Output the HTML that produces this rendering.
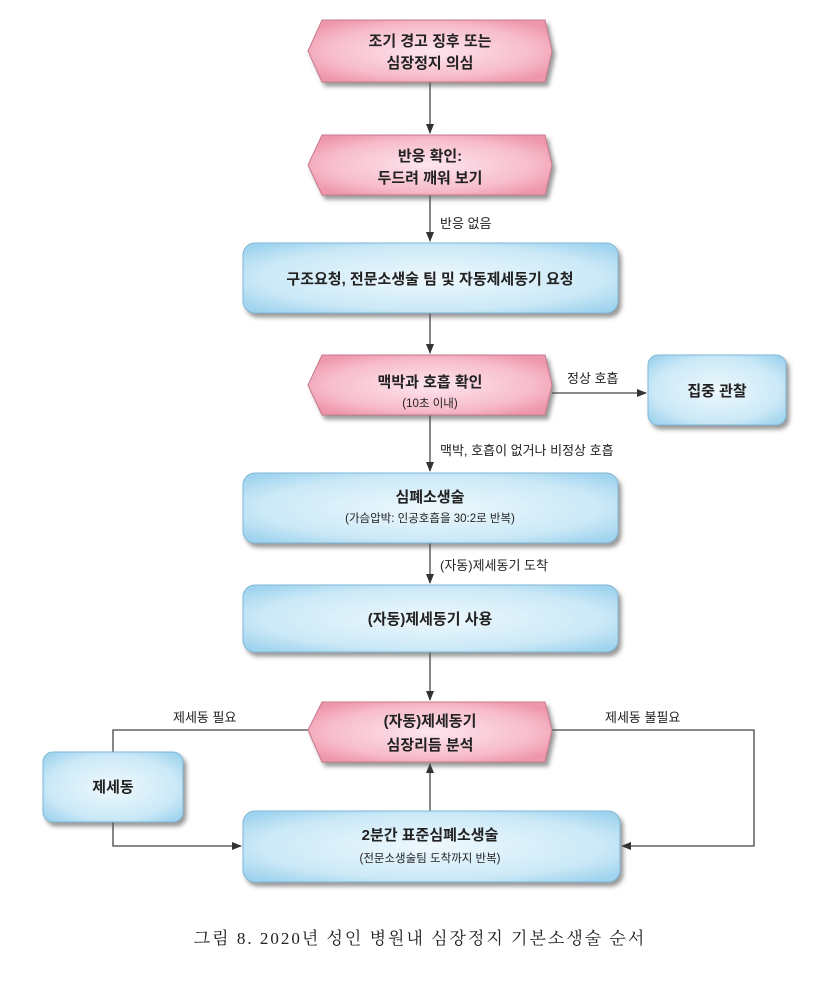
<!DOCTYPE html>
<html><head><meta charset="utf-8"><style>
body{margin:0;background:#fff;}
svg text{font-family:"Liberation Sans","Noto Sans CJK KR",sans-serif;fill:#222;}
</style></head><body>
<svg width="822" height="978" viewBox="0 0 822 978" xmlns="http://www.w3.org/2000/svg">
<defs>
<radialGradient id="pk" cx="50%" cy="50%" r="60%"><stop offset="0" stop-color="#fde6ee"/><stop offset="0.7" stop-color="#f7bccb"/><stop offset="1" stop-color="#ee97ac"/></radialGradient>
<radialGradient id="bl" cx="50%" cy="50%" r="65%"><stop offset="0" stop-color="#eef8fd"/><stop offset="0.7" stop-color="#cbe9f7"/><stop offset="1" stop-color="#9fd3ee"/></radialGradient>
<marker id="ar" markerWidth="10" markerHeight="10" refX="9" refY="5" orient="auto" markerUnits="userSpaceOnUse"><path d="M0,1 L10,5 L0,9 Z" fill="#333"/></marker>
<filter id="sh" x="-10%" y="-10%" width="125%" height="140%"><feDropShadow dx="3" dy="4" stdDeviation="2" flood-color="#555" flood-opacity="0.6"/></filter>
</defs>
<g stroke="#444" stroke-width="1.3" fill="none">
<line x1="430" y1="82" x2="430" y2="133" marker-end="url(#ar)"/>
<line x1="430" y1="195" x2="430" y2="241" marker-end="url(#ar)"/>
<line x1="430" y1="313" x2="430" y2="353" marker-end="url(#ar)"/>
<line x1="552" y1="393" x2="646" y2="393" marker-end="url(#ar)"/>
<line x1="430" y1="415" x2="430" y2="471" marker-end="url(#ar)"/>
<line x1="430" y1="543" x2="430" y2="583" marker-end="url(#ar)"/>
<line x1="430" y1="652" x2="430" y2="700" marker-end="url(#ar)"/>
<line x1="430" y1="811" x2="430" y2="764" marker-end="url(#ar)"/>
<polyline points="308,730 113,730 113,752"/>
<polyline points="113,822 113,846 241,846" marker-end="url(#ar)"/>
<polyline points="552,730 754,730 754,846 622,846" marker-end="url(#ar)"/>
</g>
<g filter="url(#sh)" stroke="#c77a8c" stroke-width="1">
<polygon points="322,20 545,20 552,51 545,82 322,82 308,51" fill="url(#pk)"/>
<polygon points="322,135 545,135 552,165 545,195 322,195 308,165" fill="url(#pk)"/>
<polygon points="322,355 545,355 552,385 545,415 322,415 308,385" fill="url(#pk)"/>
<polygon points="322,702 545,702 552,730 545,762 322,762 308,730" fill="url(#pk)"/>
</g>
<g filter="url(#sh)" stroke="#7fb8d6" stroke-width="1">
<rect x="243" y="243" width="375" height="70" rx="12" fill="url(#bl)"/>
<rect x="648" y="355" width="138" height="70" rx="10" fill="url(#bl)"/>
<rect x="243" y="473" width="375" height="70" rx="12" fill="url(#bl)"/>
<rect x="243" y="585" width="375" height="67" rx="12" fill="url(#bl)"/>
<rect x="43" y="752" width="140" height="70" rx="10" fill="url(#bl)"/>
<rect x="243" y="811" width="377" height="71" rx="12" fill="url(#bl)"/>
</g>
<g font-size="15" font-weight="bold" text-anchor="middle">
<text x="430" y="46">조기 경고 징후 또는</text>
<text x="430" y="68">심장정지 의심</text>
<text x="430" y="161">반응 확인:</text>
<text x="430" y="183">두드려 깨워 보기</text>
<text x="430" y="284">구조요청, 전문소생술 팀 및 자동제세동기 요청</text>
<text x="430" y="387">맥박과 호흡 확인</text>
<text x="717" y="396">집중 관찰</text>
<text x="430" y="502">심폐소생술</text>
<text x="430" y="624">(자동)제세동기 사용</text>
<text x="430" y="726">(자동)제세동기</text>
<text x="430" y="750">심장리듬 분석</text>
<text x="113" y="792">제세동</text>
<text x="430" y="840">2분간 표준심폐소생술</text>
</g>
<g font-size="11.5" text-anchor="middle">
<text x="430" y="407">(10초 이내)</text>
<text x="430" y="522">(가슴압박: 인공호흡을 30:2로 반복)</text>
<text x="430" y="862">(전문소생술팀 도착까지 반복)</text>
</g>
<g font-size="13">
<text x="440" y="228">반응 없음</text>
<text x="567" y="383">정상 호흡</text>
<text x="440" y="455">맥박, 호흡이 없거나 비정상 호흡</text>
<text x="440" y="570">(자동)제세동기 도착</text>
<text x="173" y="722">제세동 필요</text>
<text x="605" y="722">제세동 불필요</text>
</g>
<text x="420" y="944" font-size="17" letter-spacing="2" text-anchor="middle" style='font-family:"Liberation Serif","Noto Serif CJK SC",serif'>그림 8. 2020년 성인 병원내 심장정지 기본소생술 순서</text>
</svg>
</body></html>
